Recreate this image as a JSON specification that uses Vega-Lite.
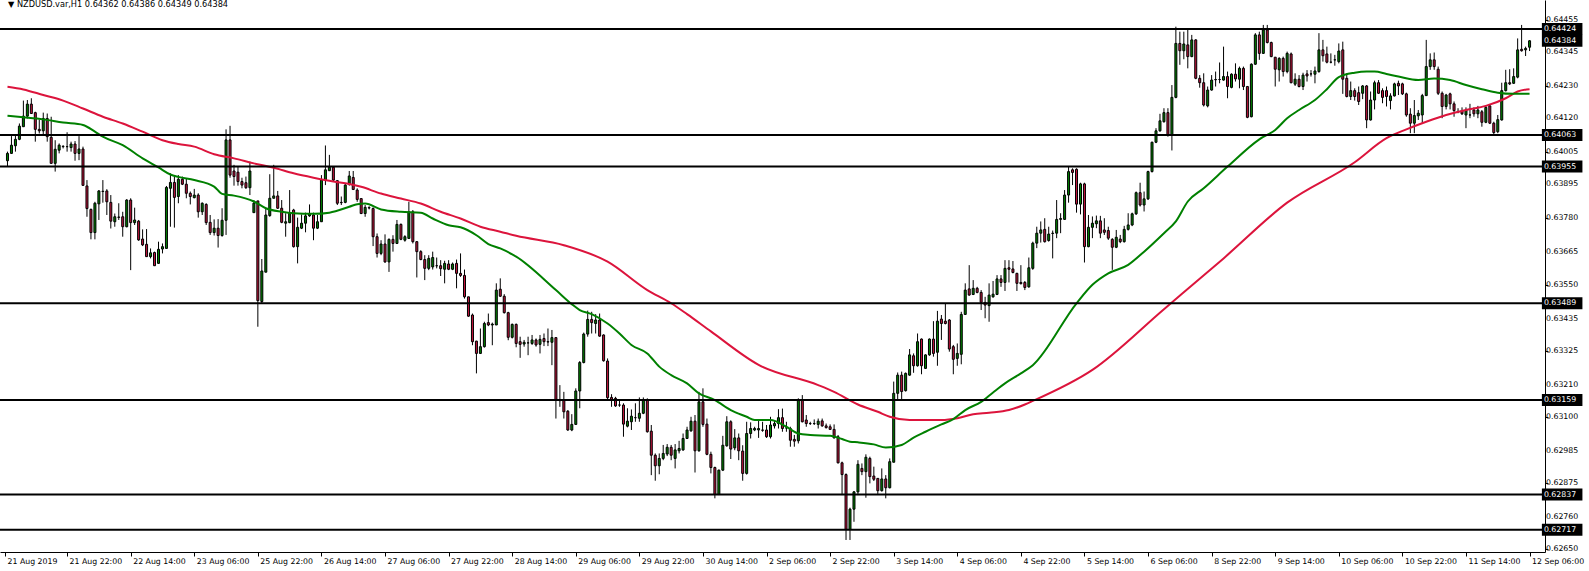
{
"$schema": "https://vega.github.io/schema/vega-lite/v6.json",
"width": 1545, "height": 552,
"autosize": {"type": "none"},
"padding": {"left": 0, "top": 0, "right": 44, "bottom": 19},
"background": "white",
"config": {"view": {"stroke": null}, "axis": {"labelFont": "DejaVu Sans", "labelFontSize": 7.8, "labelColor": "black", "tickColor": "black", "domainColor": "black", "grid": false, "title": null, "labelOverlap": false, "labelBound": false, "labelFlush": false}, "axisQuantitative": {"labelOverlap": false}},
"datasets": {
"k": [
{"i":1,"o":0.63975,"h":0.64006,"l":0.63957,"c":0.64000},
{"i":2,"o":0.64000,"h":0.64059,"l":0.63998,"c":0.64028},
{"i":3,"o":0.64026,"h":0.64062,"l":0.64006,"c":0.64048},
{"i":4,"o":0.64048,"h":0.64102,"l":0.64045,"c":0.64093},
{"i":5,"o":0.64091,"h":0.64180,"l":0.64091,"c":0.64127},
{"i":6,"o":0.64127,"h":0.64182,"l":0.64119,"c":0.64168},
{"i":7,"o":0.64168,"h":0.64188,"l":0.64136,"c":0.64136},
{"i":8,"o":0.64139,"h":0.64142,"l":0.64040,"c":0.64082},
{"i":9,"o":0.64082,"h":0.64114,"l":0.64068,"c":0.64077},
{"i":10,"o":0.64077,"h":0.64139,"l":0.64062,"c":0.64119},
{"i":11,"o":0.64119,"h":0.64136,"l":0.64040,"c":0.64057},
{"i":12,"o":0.64055,"h":0.64125,"l":0.63966,"c":0.63966},
{"i":13,"o":0.63966,"h":0.64045,"l":0.63938,"c":0.64014},
{"i":14,"o":0.64011,"h":0.64034,"l":0.64000,"c":0.64028},
{"i":15,"o":0.64023,"h":0.64028,"l":0.64017,"c":0.64024},
{"i":16,"o":0.64023,"h":0.64072,"l":0.64006,"c":0.64023},
{"i":17,"o":0.64020,"h":0.64040,"l":0.64006,"c":0.64032},
{"i":18,"o":0.64032,"h":0.64042,"l":0.63975,"c":0.64000},
{"i":19,"o":0.64000,"h":0.64059,"l":0.63977,"c":0.64015},
{"i":20,"o":0.64015,"h":0.64023,"l":0.63891,"c":0.63891},
{"i":21,"o":0.63889,"h":0.63909,"l":0.63784,"c":0.63812},
{"i":22,"o":0.63809,"h":0.63812,"l":0.63707,"c":0.63730},
{"i":23,"o":0.63730,"h":0.63835,"l":0.63707,"c":0.63830},
{"i":24,"o":0.63828,"h":0.63875,"l":0.63773,"c":0.63872},
{"i":25,"o":0.63870,"h":0.63909,"l":0.63832,"c":0.63871},
{"i":26,"o":0.63872,"h":0.63878,"l":0.63790,"c":0.63835},
{"i":27,"o":0.63833,"h":0.63858,"l":0.63744,"c":0.63769},
{"i":28,"o":0.63767,"h":0.63795,"l":0.63750,"c":0.63784},
{"i":29,"o":0.63783,"h":0.63830,"l":0.63773,"c":0.63782},
{"i":30,"o":0.63784,"h":0.63801,"l":0.63716,"c":0.63750},
{"i":31,"o":0.63750,"h":0.63844,"l":0.63748,"c":0.63841},
{"i":32,"o":0.63841,"h":0.63847,"l":0.63602,"c":0.63764},
{"i":33,"o":0.63764,"h":0.63815,"l":0.63756,"c":0.63773},
{"i":34,"o":0.63769,"h":0.63773,"l":0.63702,"c":0.63705},
{"i":35,"o":0.63708,"h":0.63741,"l":0.63684,"c":0.63688},
{"i":36,"o":0.63690,"h":0.63742,"l":0.63648,"c":0.63648},
{"i":37,"o":0.63648,"h":0.63676,"l":0.63642,"c":0.63661},
{"i":38,"o":0.63662,"h":0.63665,"l":0.63617,"c":0.63617},
{"i":39,"o":0.63625,"h":0.63699,"l":0.63623,"c":0.63673},
{"i":40,"o":0.63674,"h":0.63693,"l":0.63659,"c":0.63682},
{"i":41,"o":0.63676,"h":0.63889,"l":0.63676,"c":0.63884},
{"i":42,"o":0.63881,"h":0.63932,"l":0.63750,"c":0.63901},
{"i":43,"o":0.63901,"h":0.63926,"l":0.63747,"c":0.63850},
{"i":44,"o":0.63853,"h":0.63926,"l":0.63830,"c":0.63912},
{"i":45,"o":0.63912,"h":0.63921,"l":0.63892,"c":0.63895},
{"i":46,"o":0.63895,"h":0.63915,"l":0.63847,"c":0.63864},
{"i":47,"o":0.63864,"h":0.63870,"l":0.63826,"c":0.63853},
{"i":48,"o":0.63849,"h":0.63879,"l":0.63847,"c":0.63858},
{"i":49,"o":0.63858,"h":0.63864,"l":0.63781,"c":0.63801},
{"i":50,"o":0.63801,"h":0.63833,"l":0.63790,"c":0.63830},
{"i":51,"o":0.63826,"h":0.63830,"l":0.63756,"c":0.63764},
{"i":52,"o":0.63765,"h":0.63790,"l":0.63722,"c":0.63730},
{"i":53,"o":0.63730,"h":0.63775,"l":0.63720,"c":0.63745},
{"i":54,"o":0.63745,"h":0.63776,"l":0.63679,"c":0.63720},
{"i":55,"o":0.63720,"h":0.63813,"l":0.63716,"c":0.63772},
{"i":56,"o":0.63772,"h":0.64082,"l":0.63722,"c":0.64046},
{"i":57,"o":0.64046,"h":0.64094,"l":0.63917,"c":0.63926},
{"i":58,"o":0.63940,"h":0.63961,"l":0.63890,"c":0.63921},
{"i":59,"o":0.63936,"h":0.63955,"l":0.63890,"c":0.63904},
{"i":60,"o":0.63904,"h":0.63917,"l":0.63881,"c":0.63892},
{"i":61,"o":0.63900,"h":0.63921,"l":0.63879,"c":0.63883},
{"i":62,"o":0.63883,"h":0.63972,"l":0.63858,"c":0.63940},
{"i":63,"o":0.63798,"h":0.63841,"l":0.63798,"c":0.63830},
{"i":64,"o":0.63838,"h":0.63838,"l":0.63409,"c":0.63498},
{"i":65,"o":0.63495,"h":0.63640,"l":0.63489,"c":0.63599},
{"i":66,"o":0.63595,"h":0.63813,"l":0.63595,"c":0.63790},
{"i":67,"o":0.63788,"h":0.63929,"l":0.63784,"c":0.63847},
{"i":68,"o":0.63847,"h":0.63961,"l":0.63847,"c":0.63855},
{"i":69,"o":0.63855,"h":0.63872,"l":0.63811,"c":0.63813},
{"i":70,"o":0.63813,"h":0.63841,"l":0.63762,"c":0.63765},
{"i":71,"o":0.63762,"h":0.63796,"l":0.63716,"c":0.63767},
{"i":72,"o":0.63764,"h":0.63875,"l":0.63762,"c":0.63796},
{"i":73,"o":0.63807,"h":0.63811,"l":0.63679,"c":0.63682},
{"i":74,"o":0.63682,"h":0.63781,"l":0.63625,"c":0.63748},
{"i":75,"o":0.63745,"h":0.63792,"l":0.63742,"c":0.63762},
{"i":76,"o":0.63762,"h":0.63798,"l":0.63731,"c":0.63787},
{"i":77,"o":0.63787,"h":0.63826,"l":0.63784,"c":0.63794},
{"i":78,"o":0.63790,"h":0.63798,"l":0.63704,"c":0.63745},
{"i":79,"o":0.63745,"h":0.63790,"l":0.63742,"c":0.63767},
{"i":80,"o":0.63767,"h":0.63926,"l":0.63767,"c":0.63909},
{"i":81,"o":0.63909,"h":0.64027,"l":0.63892,"c":0.63944},
{"i":82,"o":0.63941,"h":0.63995,"l":0.63940,"c":0.63953},
{"i":83,"o":0.63953,"h":0.63955,"l":0.63904,"c":0.63909},
{"i":84,"o":0.63907,"h":0.63909,"l":0.63824,"c":0.63830},
{"i":85,"o":0.63833,"h":0.63853,"l":0.63824,"c":0.63832},
{"i":86,"o":0.63833,"h":0.63898,"l":0.63830,"c":0.63892},
{"i":87,"o":0.63895,"h":0.63940,"l":0.63890,"c":0.63923},
{"i":88,"o":0.63918,"h":0.63940,"l":0.63875,"c":0.63877},
{"i":89,"o":0.63875,"h":0.63881,"l":0.63835,"c":0.63843},
{"i":90,"o":0.63846,"h":0.63846,"l":0.63793,"c":0.63795},
{"i":91,"o":0.63795,"h":0.63824,"l":0.63784,"c":0.63816},
{"i":92,"o":0.63815,"h":0.63820,"l":0.63809,"c":0.63814},
{"i":93,"o":0.63812,"h":0.63816,"l":0.63684,"c":0.63716},
{"i":94,"o":0.63716,"h":0.63727,"l":0.63645,"c":0.63659},
{"i":95,"o":0.63659,"h":0.63704,"l":0.63653,"c":0.63691},
{"i":96,"o":0.63691,"h":0.63724,"l":0.63627,"c":0.63630},
{"i":97,"o":0.63630,"h":0.63710,"l":0.63596,"c":0.63707},
{"i":98,"o":0.63707,"h":0.63721,"l":0.63665,"c":0.63693},
{"i":99,"o":0.63693,"h":0.63773,"l":0.63691,"c":0.63758},
{"i":100,"o":0.63758,"h":0.63761,"l":0.63704,"c":0.63707},
{"i":101,"o":0.63704,"h":0.63721,"l":0.63699,"c":0.63716},
{"i":102,"o":0.63710,"h":0.63835,"l":0.63710,"c":0.63801},
{"i":103,"o":0.63801,"h":0.63807,"l":0.63693,"c":0.63699},
{"i":104,"o":0.63699,"h":0.63701,"l":0.63577,"c":0.63665},
{"i":105,"o":0.63665,"h":0.63670,"l":0.63636,"c":0.63638},
{"i":106,"o":0.63638,"h":0.63653,"l":0.63568,"c":0.63608},
{"i":107,"o":0.63608,"h":0.63653,"l":0.63602,"c":0.63642},
{"i":108,"o":0.63613,"h":0.63665,"l":0.63604,"c":0.63645},
{"i":109,"o":0.63617,"h":0.63645,"l":0.63608,"c":0.63617},
{"i":110,"o":0.63617,"h":0.63636,"l":0.63582,"c":0.63607},
{"i":111,"o":0.63605,"h":0.63634,"l":0.63557,"c":0.63625},
{"i":112,"o":0.63623,"h":0.63636,"l":0.63602,"c":0.63605},
{"i":113,"o":0.63605,"h":0.63628,"l":0.63602,"c":0.63623},
{"i":114,"o":0.63625,"h":0.63638,"l":0.63540,"c":0.63591},
{"i":115,"o":0.63591,"h":0.63659,"l":0.63579,"c":0.63584},
{"i":116,"o":0.63584,"h":0.63604,"l":0.63505,"c":0.63511},
{"i":117,"o":0.63511,"h":0.63511,"l":0.63443,"c":0.63445},
{"i":118,"o":0.63449,"h":0.63454,"l":0.63346,"c":0.63358},
{"i":119,"o":0.63360,"h":0.63361,"l":0.63250,"c":0.63318},
{"i":120,"o":0.63318,"h":0.63403,"l":0.63316,"c":0.63341},
{"i":121,"o":0.63341,"h":0.63426,"l":0.63338,"c":0.63420},
{"i":122,"o":0.63423,"h":0.63454,"l":0.63411,"c":0.63415},
{"i":123,"o":0.63415,"h":0.63423,"l":0.63346,"c":0.63418},
{"i":124,"o":0.63415,"h":0.63557,"l":0.63415,"c":0.63534},
{"i":125,"o":0.63537,"h":0.63574,"l":0.63511,"c":0.63513},
{"i":126,"o":0.63513,"h":0.63520,"l":0.63454,"c":0.63457},
{"i":127,"o":0.63457,"h":0.63460,"l":0.63363,"c":0.63373},
{"i":128,"o":0.63373,"h":0.63420,"l":0.63369,"c":0.63417},
{"i":129,"o":0.63417,"h":0.63420,"l":0.63339,"c":0.63352},
{"i":130,"o":0.63358,"h":0.63375,"l":0.63303,"c":0.63349},
{"i":131,"o":0.63350,"h":0.63364,"l":0.63341,"c":0.63356},
{"i":132,"o":0.63354,"h":0.63375,"l":0.63312,"c":0.63354},
{"i":133,"o":0.63352,"h":0.63381,"l":0.63347,"c":0.63364},
{"i":134,"o":0.63364,"h":0.63369,"l":0.63341,"c":0.63347},
{"i":135,"o":0.63349,"h":0.63381,"l":0.63318,"c":0.63366},
{"i":136,"o":0.63369,"h":0.63386,"l":0.63343,"c":0.63358},
{"i":137,"o":0.63358,"h":0.63403,"l":0.63343,"c":0.63357},
{"i":138,"o":0.63356,"h":0.63398,"l":0.63278,"c":0.63372},
{"i":139,"o":0.63372,"h":0.63372,"l":0.63096,"c":0.63161},
{"i":140,"o":0.63161,"h":0.63210,"l":0.63136,"c":0.63157},
{"i":141,"o":0.63159,"h":0.63187,"l":0.63096,"c":0.63119},
{"i":142,"o":0.63121,"h":0.63125,"l":0.63054,"c":0.63057},
{"i":143,"o":0.63057,"h":0.63111,"l":0.63053,"c":0.63076},
{"i":144,"o":0.63076,"h":0.63199,"l":0.63074,"c":0.63190},
{"i":145,"o":0.63190,"h":0.63292,"l":0.63131,"c":0.63287},
{"i":146,"o":0.63287,"h":0.63389,"l":0.63284,"c":0.63384},
{"i":147,"o":0.63384,"h":0.63464,"l":0.63375,"c":0.63434},
{"i":148,"o":0.63434,"h":0.63460,"l":0.63386,"c":0.63423},
{"i":149,"o":0.63420,"h":0.63452,"l":0.63386,"c":0.63432},
{"i":150,"o":0.63432,"h":0.63454,"l":0.63375,"c":0.63377},
{"i":151,"o":0.63381,"h":0.63383,"l":0.63290,"c":0.63293},
{"i":152,"o":0.63292,"h":0.63301,"l":0.63161,"c":0.63167},
{"i":153,"o":0.63168,"h":0.63179,"l":0.63136,"c":0.63161},
{"i":154,"o":0.63165,"h":0.63170,"l":0.63136,"c":0.63139},
{"i":155,"o":0.63142,"h":0.63159,"l":0.63136,"c":0.63142},
{"i":156,"o":0.63142,"h":0.63148,"l":0.63034,"c":0.63077},
{"i":157,"o":0.63070,"h":0.63131,"l":0.63066,"c":0.63087},
{"i":158,"o":0.63085,"h":0.63127,"l":0.63057,"c":0.63104},
{"i":159,"o":0.63099,"h":0.63148,"l":0.63085,"c":0.63099},
{"i":160,"o":0.63097,"h":0.63168,"l":0.63085,"c":0.63114},
{"i":161,"o":0.63114,"h":0.63168,"l":0.63111,"c":0.63159},
{"i":162,"o":0.63159,"h":0.63165,"l":0.63048,"c":0.63051},
{"i":163,"o":0.63053,"h":0.63074,"l":0.62903,"c":0.62971},
{"i":164,"o":0.62971,"h":0.62977,"l":0.62884,"c":0.62935},
{"i":165,"o":0.62935,"h":0.62977,"l":0.62906,"c":0.62960},
{"i":166,"o":0.62960,"h":0.63006,"l":0.62954,"c":0.62977},
{"i":167,"o":0.62975,"h":0.63009,"l":0.62968,"c":0.62998},
{"i":168,"o":0.62998,"h":0.63006,"l":0.62954,"c":0.62971},
{"i":169,"o":0.62960,"h":0.63009,"l":0.62926,"c":0.62989},
{"i":170,"o":0.62986,"h":0.63020,"l":0.62977,"c":0.62994},
{"i":171,"o":0.62989,"h":0.63045,"l":0.62986,"c":0.63028},
{"i":172,"o":0.63028,"h":0.63068,"l":0.63028,"c":0.63057},
{"i":173,"o":0.63054,"h":0.63102,"l":0.63051,"c":0.63087},
{"i":174,"o":0.63087,"h":0.63108,"l":0.62912,"c":0.62986},
{"i":175,"o":0.62986,"h":0.63187,"l":0.62983,"c":0.63153},
{"i":176,"o":0.63153,"h":0.63199,"l":0.63068,"c":0.63076},
{"i":177,"o":0.63077,"h":0.63096,"l":0.62971,"c":0.62974},
{"i":178,"o":0.62974,"h":0.62983,"l":0.62909,"c":0.62929},
{"i":179,"o":0.62929,"h":0.62932,"l":0.62824,"c":0.62837},
{"i":180,"o":0.62837,"h":0.62922,"l":0.62835,"c":0.62920},
{"i":181,"o":0.62920,"h":0.63037,"l":0.62917,"c":0.63005},
{"i":182,"o":0.63003,"h":0.63104,"l":0.63000,"c":0.63085},
{"i":183,"o":0.63085,"h":0.63090,"l":0.62958,"c":0.62992},
{"i":184,"o":0.62996,"h":0.63060,"l":0.62988,"c":0.63030},
{"i":185,"o":0.63030,"h":0.63045,"l":0.62954,"c":0.62986},
{"i":186,"o":0.62985,"h":0.63005,"l":0.62884,"c":0.62909},
{"i":187,"o":0.62909,"h":0.63085,"l":0.62905,"c":0.63045},
{"i":188,"o":0.63045,"h":0.63083,"l":0.63028,"c":0.63062},
{"i":189,"o":0.63057,"h":0.63068,"l":0.63053,"c":0.63062},
{"i":190,"o":0.63057,"h":0.63091,"l":0.63030,"c":0.63062},
{"i":191,"o":0.63057,"h":0.63085,"l":0.63051,"c":0.63056},
{"i":192,"o":0.63057,"h":0.63074,"l":0.63030,"c":0.63034},
{"i":193,"o":0.63034,"h":0.63102,"l":0.63028,"c":0.63074},
{"i":194,"o":0.63071,"h":0.63091,"l":0.63062,"c":0.63079},
{"i":195,"o":0.63079,"h":0.63128,"l":0.63062,"c":0.63099},
{"i":196,"o":0.63099,"h":0.63130,"l":0.63051,"c":0.63062},
{"i":197,"o":0.63064,"h":0.63085,"l":0.63051,"c":0.63064},
{"i":198,"o":0.63062,"h":0.63068,"l":0.63000,"c":0.63022},
{"i":199,"o":0.63025,"h":0.63040,"l":0.63000,"c":0.63019},
{"i":200,"o":0.63020,"h":0.63165,"l":0.63011,"c":0.63159},
{"i":201,"o":0.63159,"h":0.63176,"l":0.63083,"c":0.63085},
{"i":202,"o":0.63091,"h":0.63108,"l":0.63068,"c":0.63079},
{"i":203,"o":0.63079,"h":0.63085,"l":0.63074,"c":0.63079},
{"i":204,"o":0.63079,"h":0.63093,"l":0.63074,"c":0.63079},
{"i":205,"o":0.63076,"h":0.63096,"l":0.63062,"c":0.63087},
{"i":206,"o":0.63088,"h":0.63096,"l":0.63068,"c":0.63071},
{"i":207,"o":0.63071,"h":0.63079,"l":0.63062,"c":0.63065},
{"i":208,"o":0.63068,"h":0.63076,"l":0.63057,"c":0.63059},
{"i":209,"o":0.63059,"h":0.63076,"l":0.63028,"c":0.63030},
{"i":210,"o":0.63034,"h":0.63040,"l":0.62943,"c":0.62945},
{"i":211,"o":0.62945,"h":0.62949,"l":0.62835,"c":0.62905},
{"i":212,"o":0.62905,"h":0.62909,"l":0.62682,"c":0.62718},
{"i":213,"o":0.62718,"h":0.62792,"l":0.62682,"c":0.62787},
{"i":214,"o":0.62787,"h":0.62849,"l":0.62744,"c":0.62846},
{"i":215,"o":0.62846,"h":0.62954,"l":0.62835,"c":0.62940},
{"i":216,"o":0.62926,"h":0.62943,"l":0.62903,"c":0.62915},
{"i":217,"o":0.62915,"h":0.62974,"l":0.62826,"c":0.62964},
{"i":218,"o":0.62960,"h":0.62966,"l":0.62875,"c":0.62898},
{"i":219,"o":0.62900,"h":0.62932,"l":0.62883,"c":0.62889},
{"i":220,"o":0.62892,"h":0.62892,"l":0.62839,"c":0.62850},
{"i":221,"o":0.62850,"h":0.62926,"l":0.62847,"c":0.62890},
{"i":222,"o":0.62890,"h":0.62903,"l":0.62824,"c":0.62860},
{"i":223,"o":0.62860,"h":0.62960,"l":0.62858,"c":0.62949},
{"i":224,"o":0.62947,"h":0.63222,"l":0.62947,"c":0.63182},
{"i":225,"o":0.63182,"h":0.63253,"l":0.63162,"c":0.63244},
{"i":226,"o":0.63244,"h":0.63256,"l":0.63162,"c":0.63188},
{"i":227,"o":0.63191,"h":0.63253,"l":0.63188,"c":0.63250},
{"i":228,"o":0.63244,"h":0.63333,"l":0.63242,"c":0.63313},
{"i":229,"o":0.63310,"h":0.63318,"l":0.63252,"c":0.63276},
{"i":230,"o":0.63276,"h":0.63386,"l":0.63273,"c":0.63358},
{"i":231,"o":0.63367,"h":0.63369,"l":0.63247,"c":0.63276},
{"i":232,"o":0.63267,"h":0.63315,"l":0.63265,"c":0.63313},
{"i":233,"o":0.63313,"h":0.63369,"l":0.63310,"c":0.63367},
{"i":234,"o":0.63367,"h":0.63428,"l":0.63307,"c":0.63318},
{"i":235,"o":0.63322,"h":0.63463,"l":0.63276,"c":0.63428},
{"i":236,"o":0.63435,"h":0.63449,"l":0.63364,"c":0.63420},
{"i":237,"o":0.63428,"h":0.63489,"l":0.63417,"c":0.63420},
{"i":238,"o":0.63432,"h":0.63435,"l":0.63324,"c":0.63333},
{"i":239,"o":0.63341,"h":0.63347,"l":0.63247,"c":0.63298},
{"i":240,"o":0.63301,"h":0.63352,"l":0.63276,"c":0.63318},
{"i":241,"o":0.63315,"h":0.63460,"l":0.63281,"c":0.63451},
{"i":242,"o":0.63451,"h":0.63557,"l":0.63449,"c":0.63534},
{"i":243,"o":0.63538,"h":0.63619,"l":0.63515,"c":0.63517},
{"i":244,"o":0.63519,"h":0.63568,"l":0.63517,"c":0.63540},
{"i":245,"o":0.63540,"h":0.63545,"l":0.63523,"c":0.63526},
{"i":246,"o":0.63526,"h":0.63534,"l":0.63466,"c":0.63492},
{"i":247,"o":0.63492,"h":0.63511,"l":0.63438,"c":0.63483},
{"i":248,"o":0.63481,"h":0.63557,"l":0.63426,"c":0.63517},
{"i":249,"o":0.63511,"h":0.63565,"l":0.63508,"c":0.63520},
{"i":250,"o":0.63519,"h":0.63585,"l":0.63517,"c":0.63572},
{"i":251,"o":0.63572,"h":0.63585,"l":0.63545,"c":0.63560},
{"i":252,"o":0.63560,"h":0.63636,"l":0.63531,"c":0.63608},
{"i":253,"o":0.63610,"h":0.63636,"l":0.63560,"c":0.63605},
{"i":254,"o":0.63606,"h":0.63633,"l":0.63591,"c":0.63594},
{"i":255,"o":0.63591,"h":0.63593,"l":0.63531,"c":0.63557},
{"i":256,"o":0.63560,"h":0.63619,"l":0.63553,"c":0.63556},
{"i":257,"o":0.63560,"h":0.63565,"l":0.63534,"c":0.63543},
{"i":258,"o":0.63545,"h":0.63645,"l":0.63542,"c":0.63610},
{"i":259,"o":0.63608,"h":0.63699,"l":0.63603,"c":0.63694},
{"i":260,"o":0.63694,"h":0.63750,"l":0.63677,"c":0.63728},
{"i":261,"o":0.63728,"h":0.63768,"l":0.63696,"c":0.63739},
{"i":262,"o":0.63741,"h":0.63779,"l":0.63696,"c":0.63699},
{"i":263,"o":0.63703,"h":0.63750,"l":0.63699,"c":0.63725},
{"i":264,"o":0.63727,"h":0.63737,"l":0.63642,"c":0.63728},
{"i":265,"o":0.63728,"h":0.63841,"l":0.63711,"c":0.63775},
{"i":266,"o":0.63775,"h":0.63796,"l":0.63728,"c":0.63778},
{"i":267,"o":0.63775,"h":0.63875,"l":0.63773,"c":0.63858},
{"i":268,"o":0.63858,"h":0.63955,"l":0.63832,"c":0.63938},
{"i":269,"o":0.63944,"h":0.63949,"l":0.63892,"c":0.63935},
{"i":270,"o":0.63946,"h":0.63949,"l":0.63798,"c":0.63827},
{"i":271,"o":0.63827,"h":0.63900,"l":0.63792,"c":0.63896},
{"i":272,"o":0.63896,"h":0.63900,"l":0.63628,"c":0.63682},
{"i":273,"o":0.63682,"h":0.63790,"l":0.63680,"c":0.63748},
{"i":274,"o":0.63748,"h":0.63785,"l":0.63711,"c":0.63762},
{"i":275,"o":0.63760,"h":0.63788,"l":0.63745,"c":0.63770},
{"i":276,"o":0.63770,"h":0.63787,"l":0.63711,"c":0.63728},
{"i":277,"o":0.63739,"h":0.63779,"l":0.63722,"c":0.63731},
{"i":278,"o":0.63737,"h":0.63750,"l":0.63705,"c":0.63711},
{"i":279,"o":0.63707,"h":0.63711,"l":0.63603,"c":0.63680},
{"i":280,"o":0.63680,"h":0.63739,"l":0.63677,"c":0.63714},
{"i":281,"o":0.63708,"h":0.63722,"l":0.63694,"c":0.63699},
{"i":282,"o":0.63699,"h":0.63753,"l":0.63696,"c":0.63741},
{"i":283,"o":0.63741,"h":0.63796,"l":0.63737,"c":0.63756},
{"i":284,"o":0.63756,"h":0.63798,"l":0.63752,"c":0.63794},
{"i":285,"o":0.63794,"h":0.63870,"l":0.63790,"c":0.63866},
{"i":286,"o":0.63866,"h":0.63900,"l":0.63819,"c":0.63824},
{"i":287,"o":0.63824,"h":0.63870,"l":0.63802,"c":0.63845},
{"i":288,"o":0.63845,"h":0.63941,"l":0.63841,"c":0.63938},
{"i":289,"o":0.63938,"h":0.64040,"l":0.63935,"c":0.64038},
{"i":290,"o":0.64038,"h":0.64086,"l":0.64035,"c":0.64077},
{"i":291,"o":0.64077,"h":0.64135,"l":0.64074,"c":0.64111},
{"i":292,"o":0.64108,"h":0.64154,"l":0.64105,"c":0.64139},
{"i":293,"o":0.64139,"h":0.64154,"l":0.64057,"c":0.64063},
{"i":294,"o":0.64063,"h":0.64233,"l":0.64010,"c":0.64191},
{"i":295,"o":0.64191,"h":0.64432,"l":0.64188,"c":0.64375},
{"i":296,"o":0.64375,"h":0.64415,"l":0.64302,"c":0.64350},
{"i":297,"o":0.64350,"h":0.64415,"l":0.64321,"c":0.64373},
{"i":298,"o":0.64370,"h":0.64421,"l":0.64290,"c":0.64330},
{"i":299,"o":0.64330,"h":0.64404,"l":0.64328,"c":0.64387},
{"i":300,"o":0.64387,"h":0.64389,"l":0.64253,"c":0.64256},
{"i":301,"o":0.64256,"h":0.64267,"l":0.64224,"c":0.64241},
{"i":302,"o":0.64241,"h":0.64273,"l":0.64160,"c":0.64165},
{"i":303,"o":0.64162,"h":0.64228,"l":0.64157,"c":0.64216},
{"i":304,"o":0.64216,"h":0.64267,"l":0.64214,"c":0.64250},
{"i":305,"o":0.64251,"h":0.64279,"l":0.64228,"c":0.64252},
{"i":306,"o":0.64252,"h":0.64310,"l":0.64239,"c":0.64252},
{"i":307,"o":0.64250,"h":0.64364,"l":0.64248,"c":0.64262},
{"i":308,"o":0.64262,"h":0.64279,"l":0.64188,"c":0.64228},
{"i":309,"o":0.64225,"h":0.64273,"l":0.64222,"c":0.64270},
{"i":310,"o":0.64270,"h":0.64307,"l":0.64245,"c":0.64254},
{"i":311,"o":0.64253,"h":0.64296,"l":0.64222,"c":0.64290},
{"i":312,"o":0.64290,"h":0.64296,"l":0.64216,"c":0.64228},
{"i":313,"o":0.64228,"h":0.64230,"l":0.64120,"c":0.64123},
{"i":314,"o":0.64125,"h":0.64307,"l":0.64123,"c":0.64304},
{"i":315,"o":0.64304,"h":0.64410,"l":0.64302,"c":0.64404},
{"i":316,"o":0.64404,"h":0.64415,"l":0.64319,"c":0.64341},
{"i":317,"o":0.64341,"h":0.64438,"l":0.64339,"c":0.64421},
{"i":318,"o":0.64421,"h":0.64438,"l":0.64375,"c":0.64378},
{"i":319,"o":0.64378,"h":0.64381,"l":0.64328,"c":0.64330},
{"i":320,"o":0.64328,"h":0.64328,"l":0.64228,"c":0.64287},
{"i":321,"o":0.64285,"h":0.64328,"l":0.64245,"c":0.64324},
{"i":322,"o":0.64324,"h":0.64330,"l":0.64262,"c":0.64279},
{"i":323,"o":0.64279,"h":0.64347,"l":0.64273,"c":0.64341},
{"i":324,"o":0.64339,"h":0.64344,"l":0.64239,"c":0.64241},
{"i":325,"o":0.64236,"h":0.64273,"l":0.64230,"c":0.64253},
{"i":326,"o":0.64253,"h":0.64267,"l":0.64225,"c":0.64228},
{"i":327,"o":0.64228,"h":0.64275,"l":0.64216,"c":0.64267},
{"i":328,"o":0.64271,"h":0.64284,"l":0.64245,"c":0.64264},
{"i":329,"o":0.64271,"h":0.64284,"l":0.64262,"c":0.64271},
{"i":330,"o":0.64270,"h":0.64296,"l":0.64239,"c":0.64281},
{"i":331,"o":0.64279,"h":0.64410,"l":0.64275,"c":0.64353},
{"i":332,"o":0.64353,"h":0.64387,"l":0.64313,"c":0.64333},
{"i":333,"o":0.64339,"h":0.64364,"l":0.64307,"c":0.64311},
{"i":334,"o":0.64311,"h":0.64341,"l":0.64307,"c":0.64311},
{"i":335,"o":0.64319,"h":0.64336,"l":0.64299,"c":0.64319},
{"i":336,"o":0.64313,"h":0.64375,"l":0.64307,"c":0.64349},
{"i":337,"o":0.64353,"h":0.64381,"l":0.64203,"c":0.64253},
{"i":338,"o":0.64256,"h":0.64273,"l":0.64191,"c":0.64194},
{"i":339,"o":0.64194,"h":0.64245,"l":0.64182,"c":0.64214},
{"i":340,"o":0.64214,"h":0.64222,"l":0.64180,"c":0.64194},
{"i":341,"o":0.64207,"h":0.64228,"l":0.64165,"c":0.64177},
{"i":342,"o":0.64205,"h":0.64233,"l":0.64185,"c":0.64230},
{"i":343,"o":0.64230,"h":0.64233,"l":0.64086,"c":0.64114},
{"i":344,"o":0.64114,"h":0.64211,"l":0.64112,"c":0.64182},
{"i":345,"o":0.64182,"h":0.64248,"l":0.64150,"c":0.64241},
{"i":346,"o":0.64241,"h":0.64250,"l":0.64203,"c":0.64205},
{"i":347,"o":0.64214,"h":0.64222,"l":0.64171,"c":0.64191},
{"i":348,"o":0.64214,"h":0.64228,"l":0.64160,"c":0.64194},
{"i":349,"o":0.64180,"h":0.64205,"l":0.64150,"c":0.64196},
{"i":350,"o":0.64196,"h":0.64241,"l":0.64194,"c":0.64237},
{"i":351,"o":0.64239,"h":0.64248,"l":0.64199,"c":0.64230},
{"i":352,"o":0.64237,"h":0.64241,"l":0.64199,"c":0.64203},
{"i":353,"o":0.64203,"h":0.64207,"l":0.64125,"c":0.64131},
{"i":354,"o":0.64134,"h":0.64154,"l":0.64069,"c":0.64103},
{"i":355,"o":0.64103,"h":0.64182,"l":0.64069,"c":0.64129},
{"i":356,"o":0.64128,"h":0.64148,"l":0.64114,"c":0.64137},
{"i":357,"o":0.64131,"h":0.64203,"l":0.64103,"c":0.64197},
{"i":358,"o":0.64197,"h":0.64387,"l":0.64197,"c":0.64296},
{"i":359,"o":0.64296,"h":0.64341,"l":0.64285,"c":0.64319},
{"i":360,"o":0.64319,"h":0.64344,"l":0.64285,"c":0.64296},
{"i":361,"o":0.64287,"h":0.64296,"l":0.64199,"c":0.64205},
{"i":362,"o":0.64205,"h":0.64211,"l":0.64120,"c":0.64160},
{"i":363,"o":0.64160,"h":0.64203,"l":0.64150,"c":0.64199},
{"i":364,"o":0.64203,"h":0.64207,"l":0.64150,"c":0.64169},
{"i":365,"o":0.64169,"h":0.64177,"l":0.64125,"c":0.64146},
{"i":366,"o":0.64143,"h":0.64154,"l":0.64137,"c":0.64142},
{"i":367,"o":0.64146,"h":0.64157,"l":0.64131,"c":0.64135},
{"i":368,"o":0.64131,"h":0.64157,"l":0.64086,"c":0.64148},
{"i":369,"o":0.64131,"h":0.64169,"l":0.64120,"c":0.64131},
{"i":370,"o":0.64148,"h":0.64157,"l":0.64125,"c":0.64135},
{"i":371,"o":0.64135,"h":0.64162,"l":0.64120,"c":0.64148},
{"i":372,"o":0.64142,"h":0.64148,"l":0.64091,"c":0.64106},
{"i":373,"o":0.64106,"h":0.64165,"l":0.64103,"c":0.64157},
{"i":374,"o":0.64162,"h":0.64165,"l":0.64100,"c":0.64103},
{"i":375,"o":0.64103,"h":0.64108,"l":0.64063,"c":0.64071},
{"i":376,"o":0.64074,"h":0.64131,"l":0.64069,"c":0.64115},
{"i":377,"o":0.64114,"h":0.64241,"l":0.64112,"c":0.64214},
{"i":378,"o":0.64214,"h":0.64285,"l":0.64211,"c":0.64241},
{"i":379,"o":0.64241,"h":0.64287,"l":0.64233,"c":0.64237},
{"i":380,"o":0.64239,"h":0.64290,"l":0.64237,"c":0.64262},
{"i":381,"o":0.64260,"h":0.64392,"l":0.64256,"c":0.64353},
{"i":382,"o":0.64355,"h":0.64438,"l":0.64347,"c":0.64350},
{"i":383,"o":0.64353,"h":0.64364,"l":0.64332,"c":0.64358},
{"i":384,"o":0.64362,"h":0.64386,"l":0.64349,"c":0.64384}
],
"ma": [
{"s":"r","i":1,"v":0.64227},{"s":"r","i":5,"v":0.64218},{"s":"r","i":10,"v":0.64199},{"s":"r","i":15,"v":0.64180},{"s":"r","i":20,"v":0.64153},{"s":"r","i":25,"v":0.64125},{"s":"r","i":30,"v":0.64102},{"s":"r","i":35,"v":0.64074},{"s":"r","i":40,"v":0.64045},{"s":"r","i":44,"v":0.64032},{"s":"r","i":48,"v":0.64023},{"s":"r","i":53,"v":0.63997},{"s":"r","i":58,"v":0.63983},{"s":"r","i":63,"v":0.63966},{"s":"r","i":68,"v":0.63951},{"s":"r","i":73,"v":0.63932},{"s":"r","i":78,"v":0.63917},{"s":"r","i":83,"v":0.63904},{"s":"r","i":87,"v":0.63896},{"s":"r","i":90,"v":0.63886},{"s":"r","i":95,"v":0.63863},{"s":"r","i":100,"v":0.63846},{"s":"r","i":105,"v":0.63829},{"s":"r","i":110,"v":0.63801},{"s":"r","i":115,"v":0.63778},{"s":"r","i":120,"v":0.63750},{"s":"r","i":125,"v":0.63733},{"s":"r","i":129,"v":0.63719},{"s":"r","i":141,"v":0.63687},{"s":"r","i":152,"v":0.63631},{"s":"r","i":162,"v":0.63534},{"s":"r","i":168,"v":0.63489},{"s":"r","i":172,"v":0.63452},{"s":"r","i":178,"v":0.63393},{"s":"r","i":190,"v":0.63279},{"s":"r","i":205,"v":0.63210},{"s":"r","i":209,"v":0.63187},{"s":"r","i":215,"v":0.63144},{"s":"r","i":220,"v":0.63119},{"s":"r","i":223,"v":0.63102},{"s":"r","i":228,"v":0.63091},{"s":"r","i":232,"v":0.63091},{"s":"r","i":236,"v":0.63091},{"s":"r","i":240,"v":0.63097},{"s":"r","i":244,"v":0.63111},{"s":"r","i":248,"v":0.63116},{"s":"r","i":253,"v":0.63125},{"s":"r","i":257,"v":0.63144},{"s":"r","i":259,"v":0.63156},{"s":"r","i":274,"v":0.63262},{"s":"r","i":292,"v":0.63469},{"s":"r","i":307,"v":0.63642},{"s":"r","i":323,"v":0.63832},{"s":"r","i":340,"v":0.63970},{"s":"r","i":348,"v":0.64052},{"s":"r","i":353,"v":0.64082},{"s":"r","i":358,"v":0.64108},{"s":"r","i":363,"v":0.64131},{"s":"r","i":368,"v":0.64148},{"s":"r","i":373,"v":0.64162},{"s":"r","i":378,"v":0.64188},{"s":"r","i":381,"v":0.64211},{"s":"r","i":384,"v":0.64219},
{"s":"g","i":1,"v":0.64128},{"s":"g","i":5,"v":0.64123},{"s":"g","i":10,"v":0.64116},{"s":"g","i":15,"v":0.64105},{"s":"g","i":20,"v":0.64097},{"s":"g","i":23,"v":0.64074},{"s":"g","i":25,"v":0.64057},{"s":"g","i":30,"v":0.64028},{"s":"g","i":35,"v":0.63983},{"s":"g","i":39,"v":0.63952},{"s":"g","i":42,"v":0.63928},{"s":"g","i":44,"v":0.63920},{"s":"g","i":48,"v":0.63909},{"s":"g","i":53,"v":0.63887},{"s":"g","i":55,"v":0.63862},{"s":"g","i":58,"v":0.63856},{"s":"g","i":63,"v":0.63836},{"s":"g","i":66,"v":0.63813},{"s":"g","i":70,"v":0.63801},{"s":"g","i":73,"v":0.63796},{"s":"g","i":78,"v":0.63794},{"s":"g","i":82,"v":0.63798},{"s":"g","i":87,"v":0.63818},{"s":"g","i":89,"v":0.63827},{"s":"g","i":91,"v":0.63829},{"s":"g","i":95,"v":0.63809},{"s":"g","i":100,"v":0.63801},{"s":"g","i":105,"v":0.63798},{"s":"g","i":108,"v":0.63778},{"s":"g","i":112,"v":0.63755},{"s":"g","i":115,"v":0.63748},{"s":"g","i":119,"v":0.63721},{"s":"g","i":122,"v":0.63691},{"s":"g","i":125,"v":0.63676},{"s":"g","i":129,"v":0.63648},{"s":"g","i":139,"v":0.63534},{"s":"g","i":143,"v":0.63486},{"s":"g","i":145,"v":0.63466},{"s":"g","i":148,"v":0.63452},{"s":"g","i":152,"v":0.63420},{"s":"g","i":155,"v":0.63386},{"s":"g","i":158,"v":0.63347},{"s":"g","i":162,"v":0.63318},{"s":"g","i":165,"v":0.63273},{"s":"g","i":168,"v":0.63244},{"s":"g","i":172,"v":0.63216},{"s":"g","i":175,"v":0.63182},{"s":"g","i":179,"v":0.63159},{"s":"g","i":183,"v":0.63125},{"s":"g","i":187,"v":0.63102},{"s":"g","i":189,"v":0.63091},{"s":"g","i":193,"v":0.63091},{"s":"g","i":197,"v":0.63068},{"s":"g","i":200,"v":0.63045},{"s":"g","i":203,"v":0.63040},{"s":"g","i":208,"v":0.63037},{"s":"g","i":211,"v":0.63026},{"s":"g","i":213,"v":0.63017},{"s":"g","i":215,"v":0.63015},{"s":"g","i":219,"v":0.63008},{"s":"g","i":222,"v":0.62997},{"s":"g","i":226,"v":0.63006},{"s":"g","i":229,"v":0.63031},{"s":"g","i":232,"v":0.63051},{"s":"g","i":236,"v":0.63076},{"s":"g","i":239,"v":0.63094},{"s":"g","i":242,"v":0.63125},{"s":"g","i":246,"v":0.63153},{"s":"g","i":249,"v":0.63185},{"s":"g","i":252,"v":0.63216},{"s":"g","i":256,"v":0.63250},{"s":"g","i":259,"v":0.63278},{"s":"g","i":270,"v":0.63489},{"s":"g","i":274,"v":0.63552},{"s":"g","i":278,"v":0.63591},{"s":"g","i":283,"v":0.63620},{"s":"g","i":287,"v":0.63665},{"s":"g","i":292,"v":0.63728},{"s":"g","i":295,"v":0.63768},{"s":"g","i":298,"v":0.63836},{"s":"g","i":302,"v":0.63881},{"s":"g","i":308,"v":0.63955},{"s":"g","i":316,"v":0.64048},{"s":"g","i":320,"v":0.64080},{"s":"g","i":323,"v":0.64120},{"s":"g","i":326,"v":0.64148},{"s":"g","i":330,"v":0.64182},{"s":"g","i":333,"v":0.64219},{"s":"g","i":336,"v":0.64260},{"s":"g","i":340,"v":0.64275},{"s":"g","i":343,"v":0.64279},{"s":"g","i":345,"v":0.64279},{"s":"g","i":348,"v":0.64271},{"s":"g","i":351,"v":0.64262},{"s":"g","i":356,"v":0.64250},{"s":"g","i":360,"v":0.64255},{"s":"g","i":364,"v":0.64250},{"s":"g","i":368,"v":0.64233},{"s":"g","i":372,"v":0.64219},{"s":"g","i":376,"v":0.64207},{"s":"g","i":380,"v":0.64203},{"s":"g","i":384,"v":0.64203}
],
"lv": [
{"p":0.64424,"k":"line"},{"p":0.64384,"k":"bid"},{"p":0.64063,"k":"line"},{"p":0.63955,"k":"line"},{"p":0.63489,"k":"line"},{"p":0.63159,"k":"line"},{"p":0.62837,"k":"line"},{"p":0.62717,"k":"line"}
],
"yt": [
{"p":0.64455},{"p":0.64345},{"p":0.6423},{"p":0.6412},{"p":0.64005},{"p":0.63895},{"p":0.6378},{"p":0.63665},{"p":0.6355},{"p":0.63435},{"p":0.63325},{"p":0.6321},{"p":0.631},{"p":0.62985},{"p":0.62875},{"p":0.6276},{"p":0.6265}
]
},
"layer": [
{
"data": {"name": "k"},
"mark": {"type": "rule", "color": "black", "strokeWidth": 1},
"encoding": {
"x": {"field": "i", "type": "quantitative", "scale": {"domain": [0.375, 386.625], "nice": false, "zero": false},
 "axis": {"orient": "bottom", "values": [0.375,16,32,48,64,80,96,112,128,144,160,176,192,208,224,240,256,272,288,304,320,336,352,368,384],
  "labelExpr": "datum.value < 1 ? '21 Aug 2019' : ['','21 Aug 22:00','22 Aug 14:00','23 Aug 06:00','25 Aug 22:00','26 Aug 14:00','27 Aug 06:00','27 Aug 22:00','28 Aug 14:00','29 Aug 06:00','29 Aug 22:00','30 Aug 14:00','2 Sep 06:00','2 Sep 22:00','3 Sep 14:00','4 Sep 06:00','4 Sep 22:00','5 Sep 14:00','6 Sep 06:00','8 Sep 22:00','9 Sep 14:00','10 Sep 06:00','10 Sep 22:00','11 Sep 14:00','12 Sep 06:00'][round(datum.value/16)]",
  "labelAlign": "left", "labelOffset": 2, "labelBaseline": "top", "labelPadding": 1, "tickSize": 4, "labelBound": false, "labelFlush": false, "labelOverlap": false, "domainWidth": 1}},
"y": {"field": "l", "type": "quantitative", "scale": {"domain": [0.62641, 0.64523], "nice": false, "zero": false},
 "axis": {"orient": "right", "values": [0.64455,0.64345,0.6423,0.6412,0.64005,0.63895,0.6378,0.63665,0.6355,0.63435,0.63325,0.6321,0.631,0.62985,0.62875,0.6276,0.6265],
  "labels": false, "tickSize": 3, "domainWidth": 1}},
"y2": {"field": "h"}
}
},
{
"data": {"name": "k"},
"mark": {"type": "bar", "size": 2, "stroke": "black", "strokeWidth": 1},
"encoding": {
"x": {"field": "i", "type": "quantitative"},
"y": {"field": "o", "type": "quantitative"},
"y2": {"field": "c"},
"fill": {"condition": {"test": "datum.c >= datum.o", "value": "#008000"}, "value": "#C0143C"}
}
},
{
"data": {"name": "ma"},
"mark": {"type": "line", "strokeWidth": 2, "interpolate": "monotone"},
"encoding": {
"x": {"field": "i", "type": "quantitative"},
"y": {"field": "v", "type": "quantitative"},
"color": {"field": "s", "type": "nominal", "scale": {"domain": ["r", "g"], "range": ["#DC143C", "#008000"]}, "legend": null},
"order": {"field": "i", "type": "quantitative"}
}
},
{
"data": {"name": "lv"},
"transform": [{"filter": "datum.k == 'line'"}],
"mark": {"type": "rule", "color": "black", "strokeWidth": 2},
"encoding": {
"y": {"field": "p", "type": "quantitative"}
}
},
{
"data": {"name": "yt"},
"mark": {"type": "text", "color": "black", "font": "DejaVu Sans", "fontSize": 7.8, "align": "left", "baseline": "middle", "dx": 6},
"encoding": {
"x": {"datum": 386.625, "type": "quantitative"},
"y": {"field": "p", "type": "quantitative"},
"text": {"field": "p", "type": "quantitative", "format": ".5f"}
}
},
{
"data": {"name": "lv"},
"mark": {"type": "rule", "color": "black", "strokeWidth": 12, "strokeCap": "butt"},
"encoding": {
"x": {"datum": 387.1, "type": "quantitative"},
"x2": {"datum": 397.3},
"y": {"field": "p", "type": "quantitative"}
}
},
{
"data": {"name": "lv"},
"mark": {"type": "text", "color": "white", "font": "DejaVu Sans", "fontSize": 7.8, "align": "left", "baseline": "middle", "dx": 2},
"encoding": {
"x": {"datum": 387.1, "type": "quantitative"},
"y": {"field": "p", "type": "quantitative"},
"text": {"field": "p", "type": "quantitative", "format": ".5f"}
}
},
{
"data": {"values": [{"t": "▼ NZDUSD.var,H1  0.64362 0.64386 0.64349 0.64384"}]},
"mark": {"type": "text", "color": "black", "font": "DejaVu Sans", "fontSize": 8.2, "align": "left", "baseline": "middle", "dx": 3},
"encoding": {
"x": {"datum": 0.375, "type": "quantitative"},
"y": {"datum": 0.64505, "type": "quantitative"},
"text": {"field": "t"}
}
}
]
}
